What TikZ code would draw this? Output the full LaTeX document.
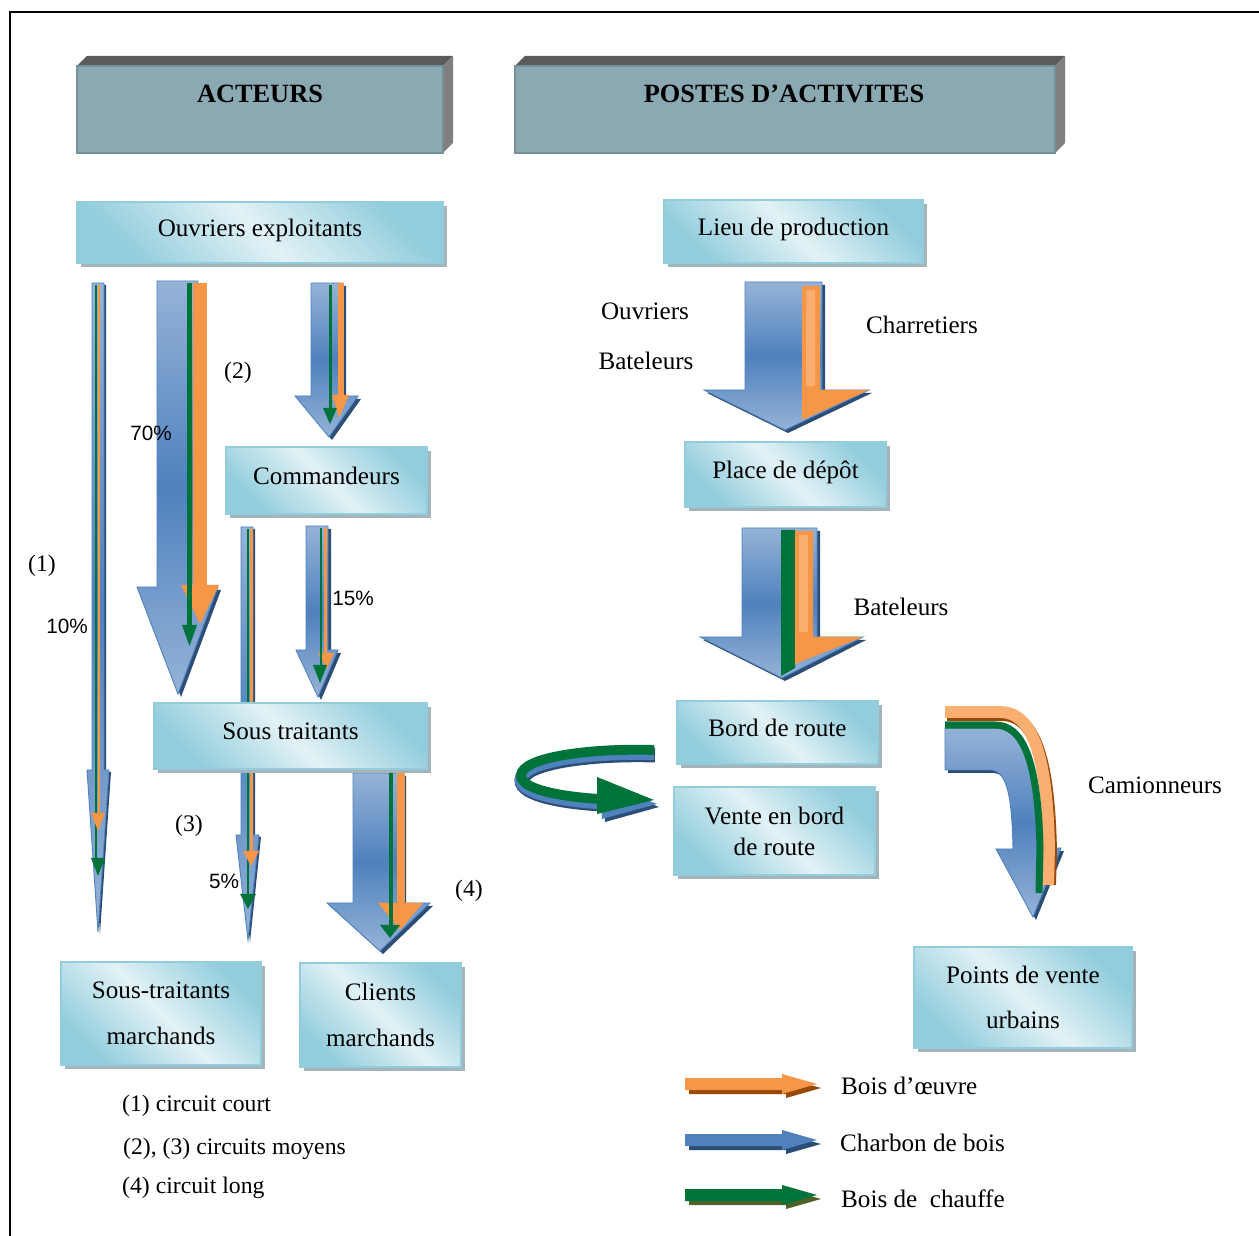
\documentclass[tikz,border=0pt]{standalone}
\usepackage{fontspec}
\setmainfont{Liberation Serif}
\newfontfamily\sansf{Liberation Sans}
\usetikzlibrary{shadows}
\definecolor{arrL}{HTML}{95B3D7}
\definecolor{arrD}{HTML}{4F81BD}
\definecolor{arrS}{HTML}{2C4D75}
\definecolor{orgM}{HTML}{F79646}
\definecolor{orgL}{HTML}{FAC090}
\definecolor{orgB}{HTML}{984807}
\definecolor{grn}{HTML}{00733A}
\definecolor{olv}{HTML}{4F6228}
\definecolor{boxC}{HTML}{92CDDC}
\definecolor{boxL}{HTML}{E2F2F6}
\definecolor{boxE}{HTML}{93CDDD}
\definecolor{hdrF}{HTML}{8BA9B3}
\definecolor{hdrT}{HTML}{5B5B5B}
\definecolor{hdrR}{HTML}{7F7F7F}
\definecolor{shd}{HTML}{A3B4BA}
\tikzset{
 lbox/.style={draw=boxE, line width=1.2pt, left color=boxC, right color=boxC, middle color=boxL, shading angle=135,
   inner sep=0pt, outer sep=0pt, align=center, font=\fontsize{14.3}{17.6}\selectfont,
   drop shadow={shadow xshift=0.07cm, shadow yshift=-0.08cm, fill=shd, opacity=1}},
 oneline/.style={text height=0.7em, text depth=0.3em},
 twoline/.style={},
 barrow/.style={draw=arrD, line width=0.5pt, top color=arrL, bottom color=arrL, middle color=arrD},
 hdrtxt/.style={font=\bfseries\fontsize{15}{18}\selectfont},
 lbl/.style={font=\fontsize{13.5}{16}\selectfont},
 pct/.style={font=\sansf\fontsize{11.8}{14}\selectfont},
 txt/.style={font=\fontsize{14.3}{17}\selectfont},
}
% box: name, x1, y1, x2, y2, text, extra style
\newcommand\bx[7]{\node[lbox, #7, minimum width={(#4-#2)*0.02cm}, minimum height={(#5-#3)*0.02cm}] (#1) at ({(#2+#4)/2},{(#3+#5)/2}) {#6};}
% down block arrow: xl xr ytop yhead hl hr tipx tipy shadowoffset
\newcommand\darr[9]{%
 \begin{scope}[shift={(#9,#9)}]\fill[arrS] (#1,#3) -- (#2,#3) -- (#2,#4) -- (#6,#4) -- (#7,#8) -- (#5,#4) -- (#1,#4) -- cycle;\end{scope}
 \path[barrow] (#1,#3) -- (#2,#3) -- (#2,#4) -- (#6,#4) -- (#7,#8) -- (#5,#4) -- (#1,#4) -- cycle;}
% header 3D box: x1 y1 x2 y2
\newcommand\hdrbox[4]{%
 \fill[hdrT] (#1,#2) -- ({#1+10},{#2-10}) -- ({#3+10},{#2-10}) -- (#3,#2) -- cycle;
 \fill[hdrR] (#3,#2) -- ({#3+10},{#2-10}) -- ({#3+10},{#4-10}) -- (#3,#4) -- cycle;
 \filldraw[fill=hdrF, draw=hdrF!85!black, line width=0.6pt] (#1,#2) rectangle (#3,#4);}
\begin{document}
\begin{tikzpicture}[x=0.02cm,y=-0.02cm]
\useasboundingbox (0,0) rectangle (1259,1236);
\draw[line width=1.2pt] (10,1236) -- (10,12) -- (1259,12);

% headers
\hdrbox{77}{66}{443}{153}
\node[hdrtxt] (hA) at (260,94) {ACTEURS};
\hdrbox{515}{66}{1055}{153}
\node[hdrtxt] (hP) at (784,94) {POSTES D’ACTIVITES};

% ---------- left column arrows ----------
% (1) thin long arrow
\darr{92}{104}{283}{770}{87}{109}{98}{932}{2}
\fill[grn] (94.5,285) rectangle (97,860);
\fill[orgM] (97.5,285) rectangle (100,815);
\fill[orgM] (91,813) -- (105,813) -- (98,831) -- cycle;
\fill[grn] (91,858) -- (105,858) -- (98,876) -- cycle;
% (2) 70% arrow
\darr{157}{198}{281}{587}{137}{218}{178}{694}{3}
\fill[orgM] (193,283) rectangle (207,586);
\fill[orgM] (181,585) -- (219,585) -- (200,624) -- cycle;
\fill[grn] (187,283) rectangle (192,627);
\fill[grn] (182,625) -- (197,625) -- (189.5,646) -- cycle;
% to Commandeurs
\darr{311}{343}{283}{396}{295}{358}{329}{437}{3}
\fill[orgM] (338,283) rectangle (344,397);
\fill[orgM] (332,395) -- (349,395) -- (339,418) -- cycle;
\fill[grn] (329,285) rectangle (331.5,410);
\fill[grn] (323,408) -- (337,408) -- (330,424) -- cycle;
% (3) thin arrow
\darr{241}{253}{527}{835}{236}{259}{248}{940}{2}
\fill[grn] (246.5,529) rectangle (249,895);
\fill[orgM] (249.5,529) rectangle (252.5,852);
\fill[orgM] (243,851) -- (259,851) -- (251,866) -- cycle;
\fill[grn] (240,894) -- (256,894) -- (248,909) -- cycle;
% 15% arrow
\darr{306}{328}{526}{650}{296}{338}{318}{697}{3}
\fill[orgM] (323.5,528) rectangle (327,654);
\fill[orgM] (318,653) -- (334,653) -- (327,669) -- cycle;
\fill[grn] (319.5,528) rectangle (322,667);
\fill[grn] (313,665) -- (327,665) -- (320,683) -- cycle;
% (4) arrow
\darr{353}{403}{773}{903}{327}{430}{380}{951}{3}
\fill[orgM] (397,773) rectangle (405,904);
\fill[orgM] (378,903) -- (423,903) -- (400,930) -- cycle;
\fill[grn] (389,773) rectangle (393,926);
\fill[grn] (380,925) -- (400,925) -- (390,938) -- cycle;

% ---------- right column arrows ----------
\darr{745}{822}{282}{390}{704}{869}{785}{430}{3}
\fill[orgM] (802,286) -- (820,286) -- (820,390) -- (869,390) -- (802,420) -- cycle;
\fill[orgL!55!orgM] (806,290) rectangle (815,386);
\darr{742}{817}{528}{637}{700}{863}{782}{678}{3}
\fill[grn] (781,530) -- (795,530) -- (795,668) -- (781,676) -- cycle;
\fill[orgM] (795,531) -- (813,531) -- (813,637) -- (863,637) -- (795,664) -- cycle;
\fill[orgL!55!orgM] (799,535) rectangle (808,632);

% U-turn arrow
\draw[arrS, line width=8.5pt, shift={(1,5)}] (654,750) .. controls (585,748) and (522,758) .. (521,775) .. controls (520,790) and (565,797) .. (600,799);
\draw[arrD, line width=7pt, shift={(0,4)}] (654,750) .. controls (585,748) and (522,758) .. (521,775) .. controls (520,790) and (565,797) .. (600,799);
\draw[grn, line width=5.6pt] (654,750) .. controls (585,748) and (522,758) .. (521,775) .. controls (520,790) and (565,797) .. (600,799);
\fill[arrS] (603,784) -- (659,807) -- (605,822) -- cycle;
\fill[arrD] (600,782) -- (657,804) -- (602,819) -- cycle;
\fill[grn] (597,777) -- (654,800) -- (597,814) -- cycle;

% Camionneurs bent arrow
\begin{scope}[shift={(3,3)}]
\fill[arrS] (945,728) -- (995,728) .. controls (1020,728) and (1037,760) .. (1039,848) -- (1061,848) -- (1033,917) -- (996,849) -- (1013,849) .. controls (1012,800) and (1008,770) .. (990,770) -- (945,770) -- cycle;
\end{scope}
\path[barrow] (945,728) -- (995,728) .. controls (1020,728) and (1037,760) .. (1039,848) -- (1061,848) -- (1033,917) -- (996,849) -- (1013,849) .. controls (1012,800) and (1008,770) .. (990,770) -- (945,770) -- cycle;
\draw[orgB, line width=6.8pt, shift={(2,3)}] (945,712) -- (1000,712) .. controls (1030,712) and (1047,748) .. (1049,848) -- (1048,882);
\draw[orgL!60!orgM, line width=6.8pt] (945,712) -- (1000,712) .. controls (1030,712) and (1047,748) .. (1049,848) -- (1048,885);
\draw[grn, line width=4pt] (945,725) -- (995,725) .. controls (1022,725) and (1038,758) .. (1040,848) -- (1039,893);

% ---------- boxes ----------
\bx{oe}{77}{202}{443}{263}{Ouvriers exploitants}{oneline}
\bx{lp}{664}{200}{923}{263}{Lieu de production}{oneline}
\bx{cm}{226}{447}{427}{514}{Commandeurs}{oneline}
\bx{pd}{685}{442}{886}{507}{Place de dépôt}{oneline}
\bx{st}{154}{703}{427}{769}{Sous traitants}{oneline}
\bx{br}{677}{701}{878}{764}{Bord de route}{oneline}
\bx{vb}{674}{787}{875}{875}{Vente en bord\\de route}{twoline}
\bx{stm}{61}{962}{261}{1065}{Sous-traitants\\[8.4pt]marchands}{twoline}
\bx{clm}{300}{963}{461}{1067}{Clients\\[8.4pt]marchands}{twoline}
\bx{pvu}{914}{947}{1132}{1048}{Points de vente\\[8.4pt]urbains}{twoline}

% ---------- labels ----------
\node[lbl] (c1) at (42,566) {(1)};
\node[pct] (p10) at (67,626) {10\%};
\node[pct] (p70) at (151,433) {70\%};
\node[lbl] (c2) at (238,373) {(2)};
\node[pct] (p15) at (353,598) {15\%};
\node[lbl] (c3) at (189,826) {(3)};
\node[pct] (p5) at (224,881) {5\%};
\node[lbl] (c4) at (469,891) {(4)};
\node[txt] (t1) at (645,311) {Ouvriers};
\node[txt] (t2) at (646,361) {Bateleurs};
\node[txt] (t3) at (922,325) {Charretiers};
\node[txt] (t4) at (901,607) {Bateleurs};
\node[txt] (t5) at (1155,785) {Camionneurs};
\node[lbl, anchor=west] (n1) at (116,1106) {(1) circuit court};
\node[lbl, anchor=west] (n2) at (117,1149) {(2), (3) circuits moyens};
\node[lbl, anchor=west] (n3) at (116,1188) {(4) circuit long};

% ---------- legend ----------
\begin{scope}[shift={(4,4)}]
\fill[orgB] (685,1078) -- (782,1078) -- (782,1074) -- (817,1084) -- (782,1094) -- (782,1090) -- (685,1090) -- cycle;
\fill[arrS] (685,1134) -- (782,1134) -- (782,1130) -- (817,1140) -- (782,1150) -- (782,1146) -- (685,1146) -- cycle;
\fill[olv] (685,1189) -- (782,1189) -- (782,1185) -- (817,1195) -- (782,1205) -- (782,1201) -- (685,1201) -- cycle;
\end{scope}
\fill[orgM] (685,1078) -- (782,1078) -- (782,1074) -- (817,1084) -- (782,1094) -- (782,1090) -- (685,1090) -- cycle;
\fill[arrD] (685,1134) -- (782,1134) -- (782,1130) -- (817,1140) -- (782,1150) -- (782,1146) -- (685,1146) -- cycle;
\fill[grn] (685,1189) -- (782,1189) -- (782,1185) -- (817,1195) -- (782,1205) -- (782,1201) -- (685,1201) -- cycle;
\node[txt, anchor=west] (l1) at (835,1086) {Bois d’œuvre};
\node[txt, anchor=west] (l2) at (834,1143) {Charbon de bois};
\node[txt, anchor=west] (l3) at (835,1199) {Bois de\ \ chauffe};
\end{tikzpicture}
\end{document}
